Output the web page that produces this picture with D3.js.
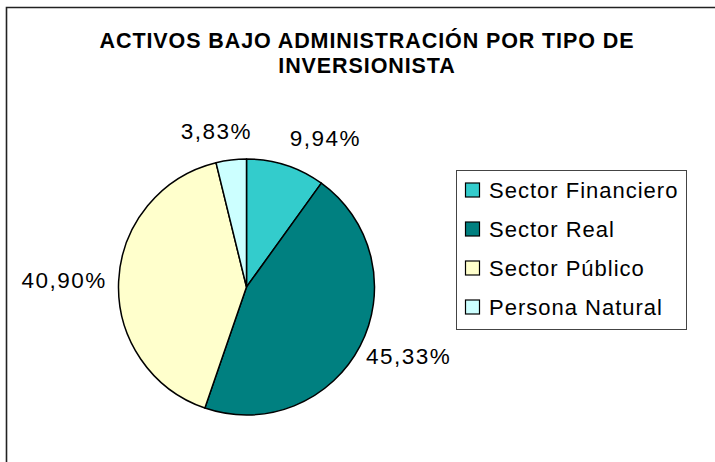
<!DOCTYPE html>
<html>
<head>
    <meta charset="utf-8">
    <title>Activos bajo administración</title>
    <script src="https://cdnjs.cloudflare.com/ajax/libs/d3/7.8.5/d3.min.js"></script>
    <style>
        body { margin: 0; background: #fff; }
        text { font-family: "Liberation Sans", Arial, sans-serif; fill: #000; }
        .title { font-weight: bold; font-size: 21.5px; letter-spacing: 0.9px; }
        .pct { font-size: 22.5px; letter-spacing: 1.5px; }
        .legend-label { font-size: 22px; letter-spacing: 1px; }
    </style>
</head>
<body>
<svg id="chart"></svg>

<script>
    const width = 715;
    const height = 462;

    // data
    const categories = ["Sector Financiero", "Sector Real", "Sector Público", "Persona Natural"];
    const shares = [9.94, 45.33, 40.90, 3.83];
    const pctLabels = ["9,94%", "45,33%", "40,90%", "3,83%"];
    const colors = ["#33CCCC", "#008080", "#FFFFCC", "#CCFFFF"];
    const titleLines = ["ACTIVOS BAJO ADMINISTRACIÓN POR TIPO DE", "INVERSIONISTA"];

    // small nudges so labels don't collide (like Excel does)
    const labelNudge = [[25, -8], [0, 1], [0, 0], [-9, -9]];

    const cx = 246.5, cy = 287, radius = 128;

    const svg = d3.select("#chart")
        .attr("width", width)
        .attr("height", height);

    // chart area frame (only top and left visible in the crop)
    svg.append("path")
        .attr("d", `M6.5,${height + 2} L6.5,7.5 L${width + 2},7.5`)
        .attr("fill", "none")
        .attr("stroke", "#222")
        .attr("stroke-width", 1.6);

    // title
    svg.append("text")
        .attr("class", "title")
        .attr("text-anchor", "middle")
        .selectAll("tspan")
        .data(titleLines)
        .join("tspan")
        .attr("x", 367)
        .attr("y", (d, i) => 48 + i * 24.5)
        .text(d => d);

    const pie = d3.pie().sort(null).value(d => d);
    const arcs = pie(shares);
    const arc = d3.arc().innerRadius(0).outerRadius(radius);

    const g = svg.append("g").attr("transform", `translate(${cx},${cy})`);

    g.selectAll("path.slice")
        .data(arcs)
        .join("path")
        .attr("class", "slice")
        .attr("d", arc)
        .attr("fill", (d, i) => colors[i])
        .attr("stroke", "#000")
        .attr("stroke-width", 1.5)
        .attr("stroke-linejoin", "round");

    // percentage labels placed just outside the rim
    const labelR = radius + 12;
    const digitH = 16;
    g.selectAll("text.pct")
        .data(arcs)
        .join("text")
        .attr("class", "pct")
        .attr("text-anchor", "middle")
        .text((d, i) => pctLabels[i])
        .each(function(d, i) {
            const a = (d.startAngle + d.endAngle) / 2;
            const s = Math.sin(a), c = Math.cos(a);
            const w = this.getComputedTextLength();
            const x = labelR * s + s * w / 2 + labelNudge[i][0];
            const ymid = -labelR * c - c * digitH / 2 + labelNudge[i][1];
            d3.select(this).attr("x", x).attr("y", ymid + digitH / 2);
        });

    // legend
    const legend = svg.append("g").attr("transform", "translate(456,170)");
    legend.append("rect")
        .attr("x", 0.5).attr("y", 0.5)
        .attr("width", 230).attr("height", 159)
        .attr("fill", "#fff")
        .attr("stroke", "#444")
        .attr("stroke-width", 1);

    const item = legend.selectAll("g.item")
        .data(categories)
        .join("g")
        .attr("class", "item")
        .attr("transform", (d, i) => `translate(0,${20 + i * 39})`);

    item.append("rect")
        .attr("x", 9.5).attr("y", -7)
        .attr("width", 14).attr("height", 14)
        .attr("fill", (d, i) => colors[i])
        .attr("stroke", "#000")
        .attr("stroke-width", 1.2);

    item.append("text")
        .attr("class", "legend-label")
        .attr("x", 33)
        .attr("y", 8)
        .text(d => d);
</script>
</body>
</html>
